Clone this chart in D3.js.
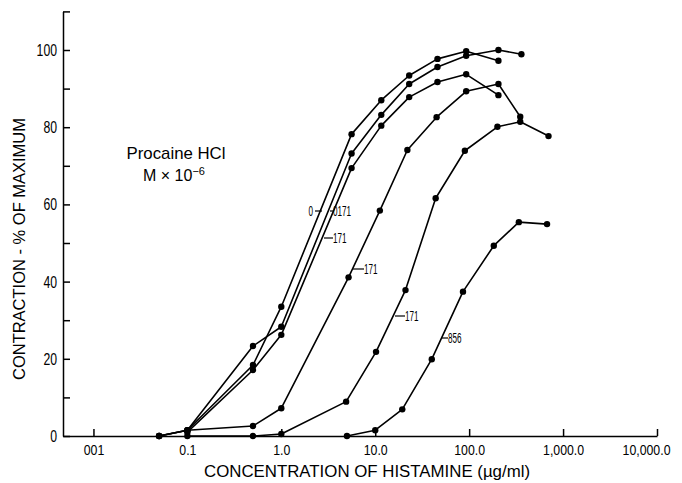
<!DOCTYPE html>
<html>
<head>
<meta charset="utf-8">
<script src="https://cdn.jsdelivr.net/npm/d3@7"></script>
<style>
  body { margin: 0; background: #fff; }
  svg text { font-family: "Liberation Sans", Arial, sans-serif; fill: #000; }
  .axis path, .axis line { stroke: #000; stroke-width: 1.5; }
</style>
</head>
<body>
<svg id="chart" width="682" height="483"></svg>
<script>
// axis ticks
const xTickValues = [0.01, 0.1, 1, 10, 100, 1000, 10000];
const xTickLabels = ["001", "0.1", "1.0", "10.0", "100.0", "1,000.0", "10,000.0"];
const yMajorTicks = [0, 20, 40, 60, 80, 100];
const yMinorTicks = [10, 30, 50, 70, 90, 110];

// procaine dose labels, one per curve
const doseLabels = ["0", "0171", "171", "171", "171", "856"];

// histamine concentration (ug/ml) and contraction (% of max)
const conc0 = [0.05, 0.1, 0.5, 1, 5.6, 11.6, 23, 46, 93, 205];
const resp0 = [0, 1.5, 18.4, 33.5, 78.2, 87, 93.4, 97.7, 99.7, 97.2];

const conc1 = [0.05, 0.1, 0.5, 1, 5.6, 11.6, 23, 46, 93, 205, 360];
const resp1 = [0, 1.5, 23.3, 28.3, 73.2, 83.2, 91.2, 95.6, 98.5, 100, 98.9];

const conc2 = [0.1, 0.5, 1, 5.6, 11.6, 23, 46, 93, 205];
const resp2 = [1, 17.1, 26.2, 69.4, 80.4, 87.8, 91.7, 93.7, 88.3];

const conc3 = [0.05, 0.1, 0.5, 1, 5.2, 11.2, 22, 45, 93, 205, 350];
const resp3 = [0, 1.5, 2.6, 7.2, 41.1, 58.4, 74.1, 82.6, 89.3, 91.2, 82.7];

const conc4 = [0.1, 0.5, 1, 4.9, 10.2, 21, 44, 90, 200, 350, 700];
const resp4 = [0, 0, 0.5, 8.9, 21.8, 37.8, 61.6, 73.9, 80.1, 81.4, 77.7];

const conc5 = [5, 10, 19.4, 40, 86, 183, 338, 675];
const resp5 = [0, 1.5, 6.9, 19.9, 37.4, 49.3, 55.4, 54.9];

const concs = [conc0, conc1, conc2, conc3, conc4, conc5];
const resps = [resp0, resp1, resp2, resp3, resp4, resp5];

const svg = d3.select("#chart");

const x = d3.scaleLog().domain([0.00474, 10000]).range([63, 657]);
const y = d3.scaleLinear().domain([0, 110]).range([436, 11.4]);

// squeeze text horizontally, the original lettering is narrow
function condense(sel, k) {
    sel.each(function() {
        const w = this.getComputedTextLength();
        d3.select(this).attr("textLength", w * k).attr("lengthAdjust", "spacingAndGlyphs");
    });
}

// x axis, ticks pointing up
svg.append("g")
    .attr("class", "axis")
    .attr("transform", "translate(0,436)")
    .call(d3.axisBottom(x).tickValues(xTickValues)
        .tickFormat((d, i) => xTickLabels[i])
        .tickSizeInner(-7).tickSizeOuter(0).tickPadding(9))
    .call(g => g.selectAll("text").style("font-size", "14px").call(condense, 0.88))
    .call(g => g.selectAll(".tick:last-of-type text").attr("dx", -11));

// y axis, ticks pointing into the plot
svg.append("g")
    .attr("class", "axis")
    .attr("transform", "translate(63,0)")
    .call(d3.axisLeft(y).tickValues(yMajorTicks)
        .tickSizeInner(-7).tickSizeOuter(0).tickPadding(6))
    .call(g => g.selectAll("text").style("font-size", "17px").call(condense, 0.72));

svg.append("g")
    .attr("class", "axis")
    .attr("transform", "translate(63,0)")
    .call(d3.axisLeft(y).tickValues(yMinorTicks).tickFormat("")
        .tickSizeInner(-7).tickSizeOuter(0))
    .call(g => g.select(".domain").remove());

// axis titles
svg.append("text")
    .attr("x", 367).attr("y", 477)
    .attr("text-anchor", "middle")
    .attr("textLength", 326).attr("lengthAdjust", "spacingAndGlyphs")
    .style("font-size", "16px")
    .text("CONCENTRATION OF HISTAMINE (\u00b5g/ml)");

svg.append("text")
    .attr("transform", "translate(25,249) rotate(-90)")
    .attr("text-anchor", "middle")
    .attr("textLength", 262).attr("lengthAdjust", "spacingAndGlyphs")
    .style("font-size", "17px")
    .text("CONTRACTION - % OF MAXIMUM");

// legend note
svg.append("text")
    .attr("x", 176).attr("y", 159)
    .attr("text-anchor", "middle")
    .attr("textLength", 99).attr("lengthAdjust", "spacingAndGlyphs")
    .style("font-size", "17px")
    .text("Procaine HCl");

const m = svg.append("text")
    .attr("x", 174).attr("y", 181)
    .attr("text-anchor", "middle")
    .style("font-size", "16px");
m.append("tspan").text("M \u00d7 10");
m.append("tspan").attr("dy", -6).style("font-size", "11px").text("\u22126");

// curves
const line = d3.line().x(d => x(d[0])).y(d => y(d[1]));

concs.forEach((c, i) => {
    const pts = c.map((v, j) => [v, resps[i][j]]);
    svg.append("path")
        .datum(pts)
        .attr("d", line)
        .attr("fill", "none")
        .attr("stroke", "#000")
        .attr("stroke-width", 1.6)
        .attr("stroke-linejoin", "round");
    svg.append("g").selectAll("circle")
        .data(pts)
        .enter().append("circle")
        .attr("cx", d => x(d[0]))
        .attr("cy", d => y(d[1]))
        .attr("r", 3.2)
        .attr("fill", "#000");
});

// dose labels on the curves: [dash x1, dash x2, y, text x, anchor]
const labelSpots = [
    [315, 322, 211, 313, "end"],
    [330, 334, 211, 333, "start"],
    [324, 333, 238, 333, "start"],
    [353, 364, 269, 364, "start"],
    [395, 405, 316, 405, "start"],
    [442, 448, 338, 448, "start"]
];
labelSpots.forEach((s, i) => {
    svg.append("line")
        .attr("x1", s[0]).attr("x2", s[1])
        .attr("y1", s[2]).attr("y2", s[2])
        .attr("stroke", "#000").attr("stroke-width", 1.2);
    svg.append("text")
        .attr("x", s[3]).attr("y", s[2] + 5)
        .attr("text-anchor", s[4])
        .style("font-size", "14px")
        .text(doseLabels[i])
        .call(condense, 0.58);
});
</script>
</body>
</html>
